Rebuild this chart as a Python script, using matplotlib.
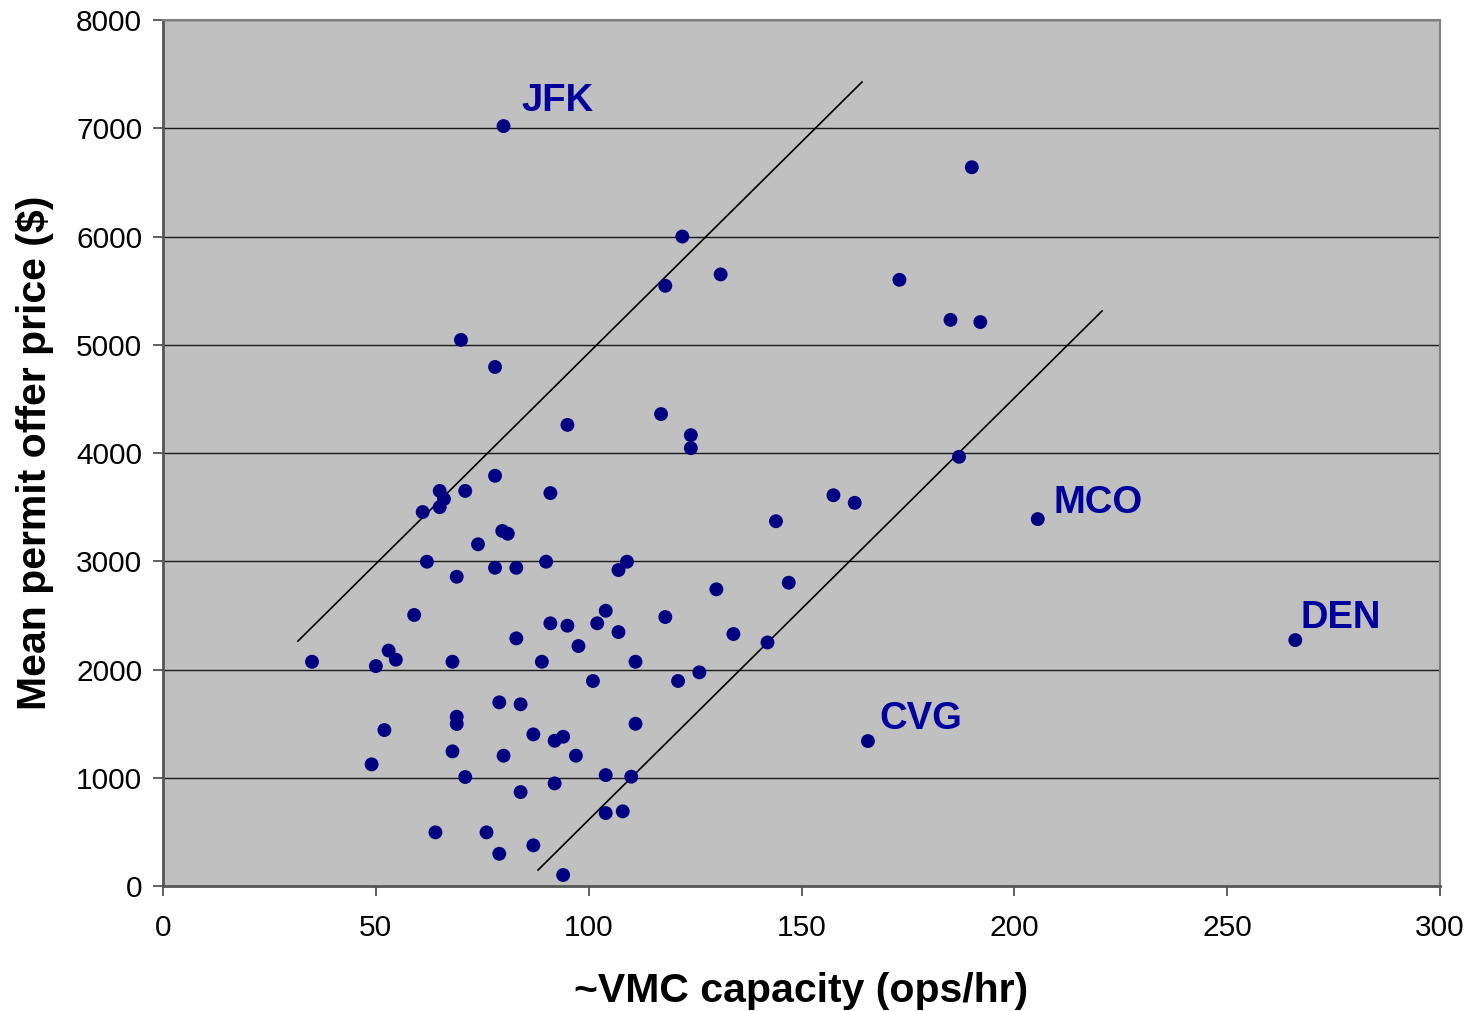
import numpy as np
from matplotlib import pyplot as plt

plt.rcParams['font.family'] = ['Liberation Sans', 'DejaVu Sans']

# VMC capacity (ops/hr) and mean permit offer price ($) per airport
capacity = [80, 190, 122, 131, 118, 173, 185, 192, 70, 78,
            95, 117, 124, 124, 187, 78, 157.5, 162.5, 205.5, 144,
            91, 65, 71, 66, 65, 61, 79.7, 81, 74, 62,
            69, 78, 83, 90, 59, 91, 95, 83, 53, 97.6,
            35, 50, 54.7, 68, 89, 79, 84, 69, 69, 52,
            68, 87, 92, 94, 80, 97, 49, 71, 84, 92,
            64, 76, 79, 87, 94, 109, 107, 130, 147, 104,
            102, 107, 118, 134, 142, 111, 101, 121, 126, 111,
            104, 110, 104, 108, 165.6, 266]
price = [7020, 6640, 6000, 5650, 5545, 5600, 5230, 5210, 5045, 4795,
         4260, 4360, 4165, 4045, 3965, 3790, 3610, 3540, 3390, 3370,
         3630, 3650, 3650, 3575, 3500, 3455, 3280, 3255, 3157, 2996,
         2857, 2940, 2940, 2996, 2504, 2427, 2405, 2288, 2175, 2217,
         2072, 2032, 2091, 2072, 2072, 1697, 1679, 1564, 1497, 1441,
         1244, 1401, 1342, 1379, 1204, 1204, 1124, 1007, 868, 948,
         496, 496, 298, 376, 102, 2996, 2919, 2741, 2802, 2543,
         2427, 2346, 2485, 2328, 2250, 2072, 1894, 1894, 1974, 1499,
         1025, 1010, 674, 690, 1339, 2272]

# labelled airports: name, text anchor (x, y)
labels = ['JFK', 'MCO', 'CVG', 'DEN']
label_x = [84.3, 209.1, 168.2, 267.3]
label_y = [7252, 3538, 1543, 2476]

# hand-drawn band lines (x0, x1), (y0, y1)
upper_x = [31.7, 164.2]
upper_y = [2263, 7427]
lower_x = [88.1, 220.6]
lower_y = [148, 5312]

xticks = [0, 50, 100, 150, 200, 250, 300]
yticks = [0, 1000, 2000, 3000, 4000, 5000, 6000, 7000, 8000]

c_dot = '#000080'
c_label = '#00009C'

fig = plt.figure(figsize=(14.7, 10.11), dpi=100)
ax = fig.add_axes([0.1109, 0.1236, 0.8687, 0.8566])
ax.set_facecolor('#C0C0C0')

for yt in yticks[1:]:
    ax.axhline(yt, color='#1a1a1a', lw=1.0, zorder=1)

ax.plot(upper_x, upper_y, color='black', lw=1.2, zorder=2)
ax.plot(lower_x, lower_y, color='black', lw=1.2, zorder=2)
ax.scatter(capacity, price, s=100, color=c_dot, edgecolors='none', zorder=3)

for name, lx, ly in zip(labels, label_x, label_y):
    ax.text(lx, ly, name, color=c_label, fontsize=27.5, fontweight='bold',
            ha='left', va='center', zorder=4)

ax.set_xlim(0, 300)
ax.set_ylim(0, 8000)
ax.set_xticks(xticks)
ax.set_yticks(yticks)
ax.tick_params(axis='both', which='major', labelsize=21.5, direction='out',
               length=7, width=1.2, color='#444444')
ax.tick_params(axis='x', pad=13)
ax.tick_params(axis='y', pad=8)

for side in ['top', 'right']:
    ax.spines[side].set_color('#808080')
    ax.spines[side].set_linewidth(1.5)
for side in ['left', 'bottom']:
    ax.spines[side].set_color('#555555')
    ax.spines[side].set_linewidth(2)

ax.set_xlabel('~VMC capacity (ops/hr)', fontsize=29.5, fontweight='bold',
              labelpad=22)
ax.set_ylabel('Mean permit offer price ($)', fontsize=29.5, fontweight='bold',
              labelpad=16)

fig.savefig('out.png', dpi=100)
